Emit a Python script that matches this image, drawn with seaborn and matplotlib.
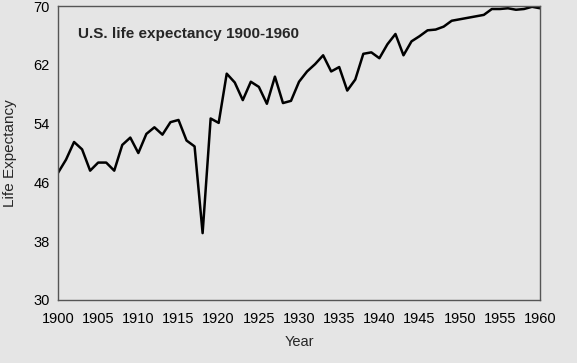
import numpy as np
import pandas as pd
import matplotlib
matplotlib.use("Agg")
import matplotlib.pyplot as plt
import seaborn as sns

# Values (years 1900-1960)
years = list(range(1900, 1961))
life_expectancy = [
    47.3, 49.1, 51.5, 50.5, 47.6, 48.7, 48.7, 47.6, 51.1, 52.1,
    50.0, 52.6, 53.5, 52.5, 54.2, 54.5, 51.7, 50.9, 39.1, 54.7,
    54.1, 60.8, 59.6, 57.2, 59.7, 59.0, 56.7, 60.4, 56.8, 57.1,
    59.7, 61.1, 62.1, 63.3, 61.1, 61.7, 58.5, 60.0, 63.5, 63.7,
    62.9, 64.8, 66.2, 63.3, 65.2, 65.9, 66.7, 66.8, 67.2, 68.0,
    68.2, 68.4, 68.6, 68.8, 69.6, 69.6, 69.7, 69.5, 69.6, 69.9,
    69.7,
]
x_ticks = list(range(1900, 1961, 5))
y_ticks = [30, 38, 46, 54, 62, 70]

df = pd.DataFrame({"Year": years, "Life Expectancy": life_expectancy})

sns.set_style("white")
plt.rcParams['font.family'] = ['Liberation Sans', 'DejaVu Sans']

bg = "#e5e5e5"
fig = plt.figure(figsize=(5.77, 3.63), dpi=100, facecolor=bg)
ax = fig.add_axes([0.1005, 0.1736, 0.8355, 0.8097])
ax.set_facecolor(bg)

sns.lineplot(data=df, x="Year", y="Life Expectancy", ax=ax, color="black", linewidth=1.8)

ax.set_xlim(1900, 1960)
ax.set_ylim(30, 70)
ax.set_xticks(x_ticks)
ax.set_yticks(y_ticks)
ax.tick_params(direction="in", length=4, width=0.8, color="#666666",
               labelsize=10.5, labelcolor="black")
ax.tick_params(axis="x", pad=9)
ax.tick_params(axis="y", pad=6)
for s in ax.spines.values():
    s.set_color("#555555")
    s.set_linewidth(1.0)

ax.set_xlabel("Year", fontsize=10.5, labelpad=6)
ax.set_ylabel("Life Expectancy", fontsize=11, labelpad=12)

ax.text(0.041, 0.905, "U.S. life expectancy 1900-1960", transform=ax.transAxes,
        ha="left", va="center", fontsize=11, fontweight="bold")

fig.savefig("out.png", dpi=100, facecolor=bg)
